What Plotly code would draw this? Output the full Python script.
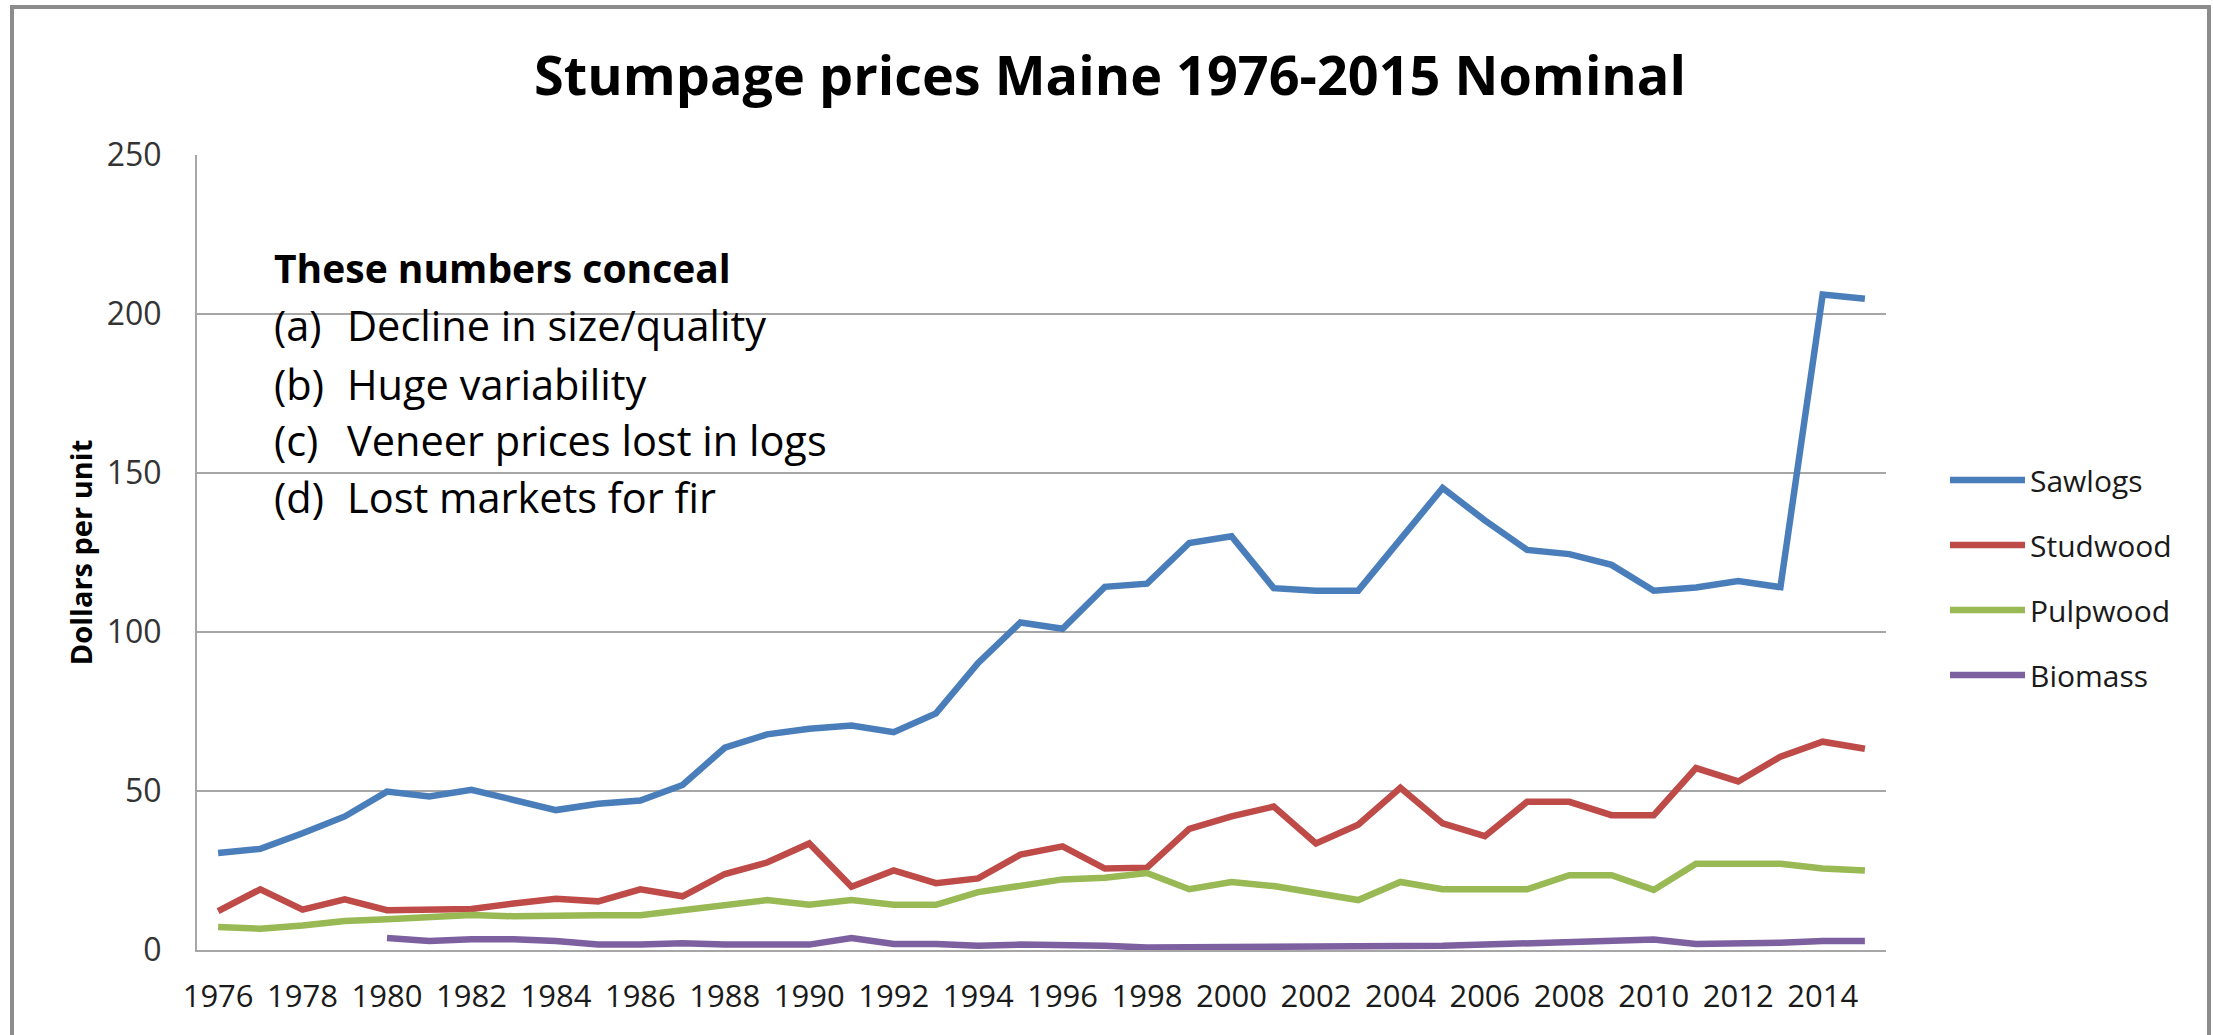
import plotly.graph_objects as go

years = list(range(1976, 2016))

sawlogs = [30.5, 31.8, 36.7, 42.0, 49.8, 48.3, 50.4, 47.2, 44.0, 46.0,
           47.0, 51.9, 63.6, 67.8, 69.6, 70.6, 68.5, 74.4, 90.3, 103.0,
           101.0, 114.2, 115.2, 128.0, 130.1, 113.8, 113.0, 113.0, 129.2, 145.3,
           135.1, 125.8, 124.5, 121.1, 113.0, 114.0, 116.0, 114.1, 206.1, 204.8]

studwood = [12.2, 19.1, 12.7, 15.9, 12.5, 12.5, 12.9, 14.6, 16.1, 15.3,
            19.1, 16.9, 23.9, 27.5, 33.5, 19.9, 25.0, 21.0, 22.5, 30.0,
            32.6, 25.6, 25.9, 38.1, 42.0, 45.1, 33.5, 39.4, 51.0, 39.8,
            35.8, 46.6, 46.6, 42.4, 42.4, 57.2, 53.0, 60.8, 65.5, 63.3]

pulpwood = [7.2, 6.7, 7.7, 9.1, 9.7, 10.2, 11.0, 10.6, 10.9, 10.9,
            10.9, 12.5, 13.6, 15.7, 14.2, 15.7, 14.2, 14.2, 18.2, 20.1,
            22.2, 22.7, 24.2, 19.1, 21.4, 20.1, 17.8, 15.7, 21.4, 19.1,
            19.1, 19.1, 23.5, 23.5, 18.9, 27.1, 27.1, 27.1, 25.6, 25.0]

biomass = [None, None, None, None, 3.8, 2.8, 3.4, 3.4, 2.8, 1.7,
           1.7, 2.1, 1.7, 1.7, 1.7, 3.8, 1.9, 1.9, 1.3, 1.7,
           1.7, 1.3, 0.8, 0.8, 0.8, 1.2, 1.2, 0.8, 1.2, 1.3,
           1.7, 2.2, 2.3, 2.8, 3.3, 1.9, 1.9, 2.3, 2.8, 2.8]

series_names = ["Sawlogs", "Studwood", "Pulpwood", "Biomass"]
series_values = [sawlogs, studwood, pulpwood, biomass]
series_colors = ["#4A7EBB", "#BE4B48", "#98B954", "#7D60A0"]

tick_years = list(range(1976, 2015, 2))
y_ticks = [0, 50, 100, 150, 200, 250]

title_text = "Stumpage prices Maine 1976-2015 Nominal"
y_title = "Dollars per unit"
note_head = "These numbers conceal"
note_keys = ["(a)", "(b)", "(c)", "(d)"]
note_items = ["Decline in size/quality", "Huge variability",
              "Veneer prices lost in logs", "Lost markets for fir"]

W, H = 2213, 1035
L, R, T, B = 197, 1886, 155, 950
PW, PH = R - L, B - T

def px(x):
    return (x - L) / PW

def py(y):
    return (B - y) / PH

FONT = "Open Sans"

fig = go.Figure()
for name, vals, col in zip(series_names, series_values, series_colors):
    fig.add_trace(go.Scatter(
        x=years, y=vals, name=name, mode="lines",
        line=dict(color=col, width=6.5),
        legendgroup=name, connectgaps=False,
    ))

annotations = [dict(
    text="<b>" + note_head + "</b>", x=px(272), y=py(267), xref="paper", yref="paper",
    xanchor="left", yanchor="middle", showarrow=False,
    font=dict(family=FONT, size=39, color="#000000"))]
line_ys = [325, 384, 440, 497]
for k, t, yy in zip(note_keys, note_items, line_ys):
    annotations.append(dict(
        text=k, x=px(272), y=py(yy), xref="paper", yref="paper",
        xanchor="left", yanchor="middle", showarrow=False,
        font=dict(family=FONT, size=41.5, color="#000000")))
    annotations.append(dict(
        text=t, x=px(345), y=py(yy), xref="paper", yref="paper",
        xanchor="left", yanchor="middle", showarrow=False,
        font=dict(family=FONT, size=41.5, color="#000000")))

fig.update_layout(
    width=W, height=H,
    margin=dict(l=L, r=W - R, t=T, b=H - B, autoexpand=False),
    paper_bgcolor="white", plot_bgcolor="white",
    title=dict(text="<b>" + title_text + "</b>", x=1110 / W,
               xanchor="center", y=1 - 76 / H, yanchor="middle",
               font=dict(family=FONT, size=54, color="#000000")),
    showlegend=True,
    legend=dict(x=px(1945), y=py(454), xanchor="left", yanchor="top",
                font=dict(family=FONT, size=30, color="#1a1a1a"),
                traceorder="grouped", tracegroupgap=23, itemwidth=75,
                bgcolor="rgba(0,0,0,0)"),
    annotations=annotations,
    shapes=[dict(type="rect", xref="paper", yref="paper",
                 x0=px(12), x1=px(2209), y0=py(1060), y1=py(7),
                 line=dict(color="#8C8C8C", width=4), layer="below")],
)

fig.update_xaxes(
    range=[1975.5, 2015.5], tickmode="array", tickvals=tick_years,
    ticktext=[str(y) for y in tick_years], showgrid=False, zeroline=False,
    showline=True, linecolor="#A6A6A6", linewidth=2, ticks="",
    tickfont=dict(family=FONT, size=31, color="#1a1a1a"),
    ticklabelstandoff=18, automargin=False,
)
fig.update_yaxes(
    range=[0, 250], tickmode="array", tickvals=y_ticks,
    showgrid=True, gridcolor="#A6A6A6", gridwidth=2, zeroline=False,
    showline=True, linecolor="#A6A6A6", linewidth=2, ticks="",
    tickfont=dict(family=FONT, size=32, color="#333333"),
    ticklabelstandoff=27, automargin=False,
    title=dict(text="<b>" + y_title + "</b>", standoff=6,
               font=dict(family=FONT, size=29, color="#000000")),
)

fig.write_html("out.html", config={"displayModeBar": False},
               post_script="document.body.style.margin='0';")
